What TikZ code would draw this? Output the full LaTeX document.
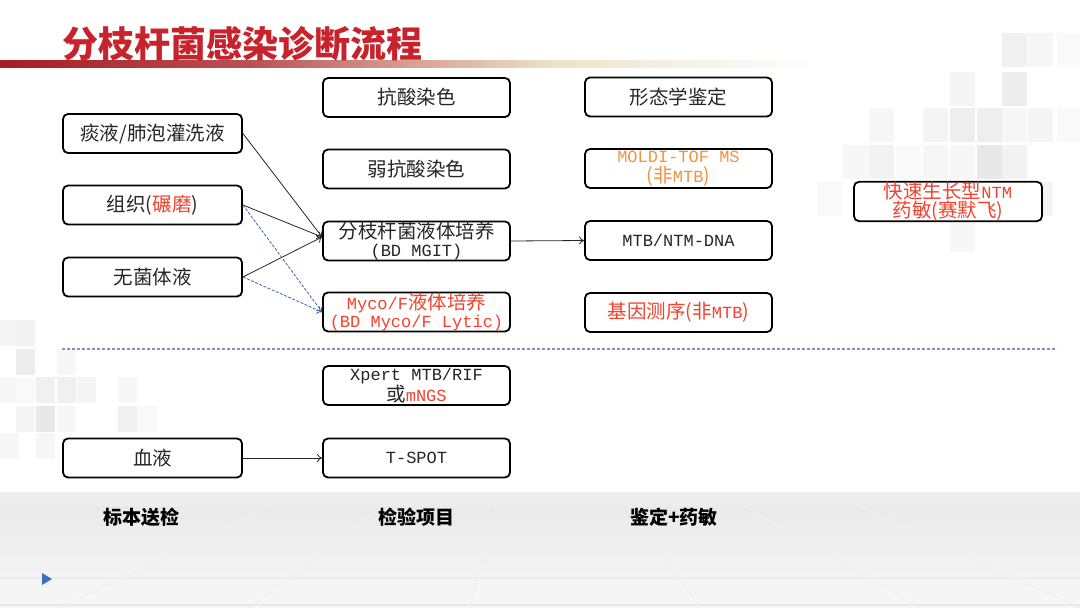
\documentclass[tikz,border=0pt]{standalone}
\usepackage{fontspec}
\setmainfont{Noto Sans CJK SC}
\newfontfamily\lmono{Liberation Mono}
\usetikzlibrary{arrows.meta}
\definecolor{tred}{HTML}{C8232C}
\definecolor{rred}{HTML}{F5412D}
\definecolor{orng}{HTML}{F5923E}
\definecolor{arrblue}{HTML}{3F64A5}
\definecolor{sepblue}{HTML}{8090C0}
\definecolor{barred}{HTML}{A51C22}
\definecolor{barmid}{HTML}{B85052}
\definecolor{barpink}{HTML}{D9A596}
\definecolor{barbeige}{HTML}{ECE4CC}
\definecolor{tri}{HTML}{3B6FC4}
\pgfdeclarehorizontalshading{titlebar}{100bp}{color(0bp)=(barred); color(25bp)=(barred); color(40bp)=(barmid); color(50.6bp)=(barpink); color(59bp)=(barbeige); color(75bp)=(white); color(100bp)=(white)}
\newcommand{\lat}[1]{{\lmono\fontsize{17}{18}\selectfont #1}}
\newcommand{\sqc}[3]{\fill[gray!#3] (#1,#2) rectangle ++(25,34);}
\newcommand{\sqd}[3]{\fill[gray!#3] (#1,#2) rectangle ++(19,26);}
\tikzset{
  box/.style={draw=black, line width=1.8pt, rounded corners=5pt, fill=white,
    minimum width=187pt, minimum height=39pt, inner sep=0pt, align=center,
    font=\fontsize{19.5}{18}\selectfont, text=black!85},
  conn/.style={line width=0.8pt, draw=black!85, -{To[length=5pt,width=8pt]}},
  bconn/.style={line width=0.8pt, draw=arrblue, dash pattern=on 3pt off 1.5pt, -{To[length=5pt,width=8pt]}},
  sepline/.style={line width=1.3pt, draw=sepblue, dash pattern=on 3pt off 2pt},
  lbl/.style={font=\fontsize{19}{19}\selectfont\bfseries, text=black, inner sep=0pt},
}
\begin{document}
\begin{tikzpicture}[x=1pt,y=-1pt]
\useasboundingbox (0,0) rectangle (1080,608);
% background
\fill[white] (0,0) rectangle (1080,608);
\fill[top color=gray!18, bottom color=gray!6] (0,492) rectangle (1080,608);
\fill[gray!14] (0,492) rectangle (1080,506);
\draw[gray!14, line width=2pt] (0,542) -- (1080,542);
\draw[gray!14, line width=2pt] (0,578) -- (1080,578);
\draw[gray!18, line width=2pt] (0,605) -- (1080,605);
\foreach \xa/\xb in {300/60, 400/250, 500/470, 620/700, 720/920, 830/1080}{
  \draw[gray!12, line width=0.8pt] (\xa,492) -- (\xb,608);
}
% squares right
\sqc{1002}{33}{12}\sqc{1028}{33}{7}\sqc{1057}{33}{5}
\sqc{950}{72}{8}\sqc{1002}{72}{14}
\sqc{869}{108}{6}\sqc{923}{108}{9}\sqc{950}{108}{13}\sqc{977}{108}{13}\sqc{1002}{108}{6}\sqc{1028}{108}{8}\sqc{1057}{108}{5}
\sqc{843}{145}{6}\sqc{869}{145}{10}\sqc{896}{145}{5}\sqc{923}{145}{7}\sqc{950}{145}{6}\sqc{977}{145}{18}\sqc{1002}{145}{10}
\sqc{817}{182}{5}\sqc{1028}{182}{8}
\sqc{950}{218}{6}
% squares left
\sqd{0}{320}{8}\sqd{16}{320}{10}
\sqd{16}{349}{14}\sqd{57}{349}{6}
\sqd{0}{377}{6}\sqd{16}{377}{5}\sqd{36}{377}{12}\sqd{57}{377}{12}\sqd{77}{377}{8}\sqd{118}{377}{6}
\sqd{16}{406}{8}\sqd{36}{406}{18}\sqd{57}{406}{6}\sqd{118}{406}{12}\sqd{138}{406}{5}
\sqd{0}{433}{6}\sqd{36}{433}{7}
% title
\fill[shading=titlebar] (0,60) rectangle (820,67);
\node[anchor=base west, font=\fontsize{36}{36}\selectfont\bfseries, text=tred, inner sep=0pt] (T) at (62,57) {分枝杆菌感染诊断流程};
% separator
\coordinate (sepL) at (62,349);
\coordinate (sepR) at (1057,349);
\draw[sepline] (sepL) -- (sepR);
% boxes column 1
\node[box, minimum width=179pt] (A1) at (152.5,133.5) {痰液/肺泡灌洗液};
\node[box, minimum width=179pt] (A2) at (152.5,205) {组织(\textcolor{rred}{碾磨})};
\node[box, minimum width=179pt] (A3) at (152.5,277) {无菌体液};
\node[box, minimum width=179pt] (A4) at (152.5,458) {血液};
% column 2
\node[box] (B1) at (416.5,97.5) {抗酸染色};
\node[box] (B2) at (416.5,169) {弱抗酸染色};
\node[box] (B3) at (416.5,241) {分枝杆菌液体培养\\\lat{(BD MGIT)}};
\node[box, text=rred] (B4) at (416.5,312) {\lat{Myco/F}液体培养\\\lat{(BD Myco/F Lytic)}};
\node[box] (B5) at (416.5,385.5) {\lat{Xpert MTB/RIF}\\或\textcolor{rred}{\lat{mNGS}}};
\node[box] (B6) at (416.5,458) {\lat{T-SPOT}};
% column 3
\node[box] (C1) at (678.5,97) {形态学鉴定};
\node[box, text=orng] (C2) at (678.5,168.5) {\lat{MOLDI-TOF MS}\\[1.5pt](非\lat{MTB})};
\node[box] (C3) at (678.5,240.5) {\lat{MTB/NTM-DNA}};
\node[box, text=rred] (C4) at (678.5,312.5) {基因测序(非\lat{MTB})};
\node[box, text=rred, minimum width=188pt] (D) at (948,201.5) {快速生长型\lat{NTM}\\药敏(赛默飞)};
% connectors
\draw[conn] (A1.east) -- ([yshift=4pt]B3.west);
\draw[conn] (A2.east) -- ([yshift=4pt]B3.west);
\draw[conn] (A3.east) -- ([yshift=4pt]B3.west);
\draw[bconn] (A2.east) -- (B4.west);
\draw[bconn] (A3.east) -- (B4.west);
\draw[conn] (B3.east) -- (C3.west);
\draw[conn] (A4.east) -- (B6.west);
% bottom labels
\node[lbl] (L1) at (141,517) {标本送检};
\node[lbl] (L2) at (416,517) {检验项目};
\node[lbl] (L3) at (674,517) {鉴定+药敏};
% small triangle
\fill[tri] (42,573) -- (52,579) -- (42,585) -- cycle;
\end{tikzpicture}
\end{document}
